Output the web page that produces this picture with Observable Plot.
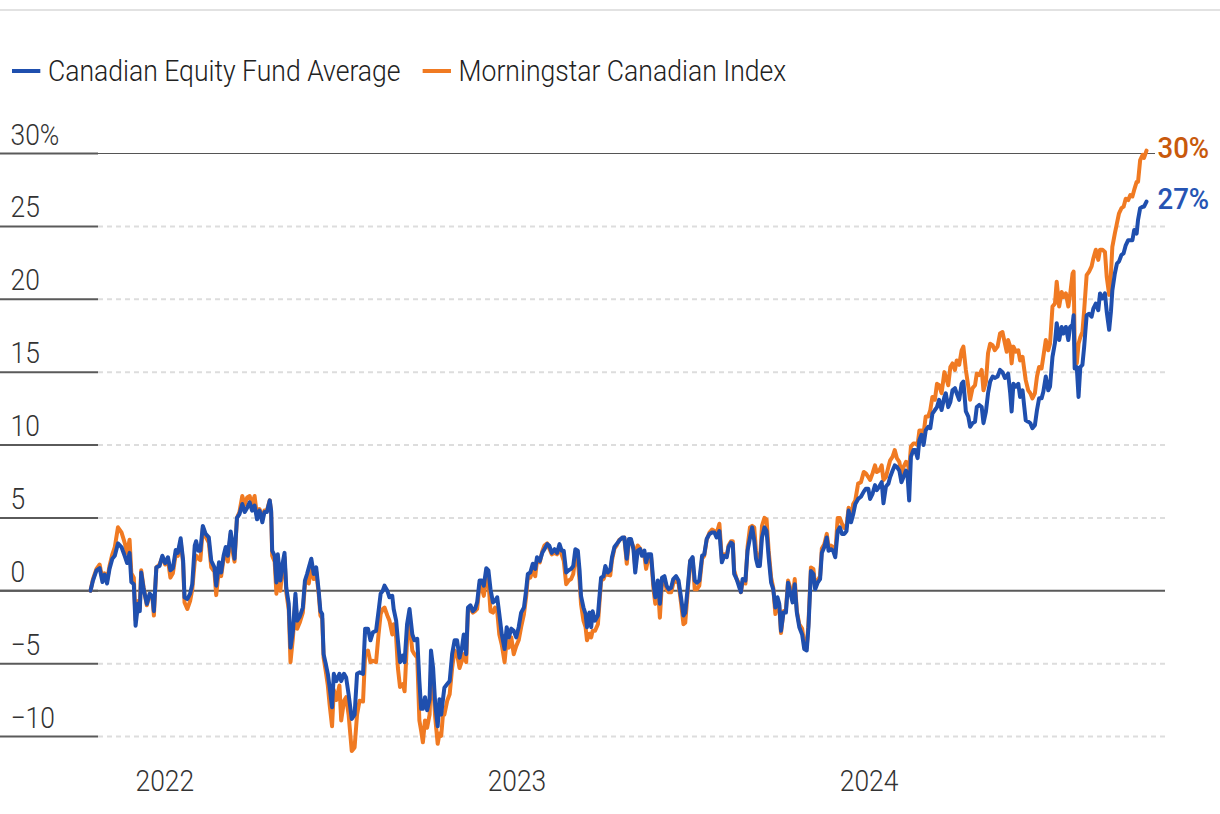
<!DOCTYPE html>
<html>
<head>
<meta charset="utf-8">
<script src="https://cdn.jsdelivr.net/npm/d3@7"></script>
<script src="https://cdn.jsdelivr.net/npm/@observablehq/plot@0.6"></script>
<style>
  html, body { margin: 0; padding: 0; background: #fff; }
  body { width: 1220px; height: 814px; position: relative; overflow: hidden; font-family: Roboto, "Liberation Sans", sans-serif; }
  #topline { position: absolute; left: 0; top: 9px; width: 1220px; height: 2px; background: #e2e2e2; }
  #legend { position: absolute; left: 12px; top: 56px; height: 30px; display: flex; align-items: center; font-size: 30px; font-weight: 300; line-height: 30px; color: #222; white-space: nowrap; transform: scaleX(0.885); transform-origin: 0 50%; }
  #legend .sw { display: inline-block; width: 31.6px; height: 4px; margin-right: 9px; }
  #legend .item { display: inline-flex; align-items: center; margin-right: 24.9px; }
  #chart { position: absolute; left: 0; top: 100px; }
  #chart svg { overflow: visible; }
</style>
</head>
<body>
<div id="topline"></div>
<div id="legend"></div>
<div id="chart"></div>
<script>
// ---------- data (time in decimal years, cumulative return in %) ----------
const t = [
  2021.789, 2021.796, 2021.806, 2021.815, 2021.823, 2021.829, 2021.836, 2021.843, 2021.851, 2021.858,
  2021.867, 2021.877, 2021.886, 2021.893, 2021.900, 2021.905, 2021.912, 2021.917, 2021.924, 2021.929,
  2021.933, 2021.940, 2021.949, 2021.957, 2021.965, 2021.969, 2021.976, 2021.985, 2021.993, 2022.001,
  2022.009, 2022.016, 2022.023, 2022.031, 2022.037, 2022.045, 2022.052, 2022.056, 2022.064, 2022.072,
  2022.078, 2022.085, 2022.089, 2022.095, 2022.101, 2022.108, 2022.116, 2022.125, 2022.132, 2022.141,
  2022.146, 2022.154, 2022.160, 2022.167, 2022.173, 2022.179, 2022.187, 2022.194, 2022.198, 2022.205,
  2022.212, 2022.220, 2022.227, 2022.234, 2022.241, 2022.248, 2022.255, 2022.262, 2022.269, 2022.277,
  2022.283, 2022.290, 2022.298, 2022.302, 2022.305, 2022.312, 2022.317, 2022.321, 2022.328, 2022.334,
  2022.340, 2022.345, 2022.352, 2022.357, 2022.364, 2022.371, 2022.376, 2022.383, 2022.392, 2022.398,
  2022.404, 2022.409, 2022.416, 2022.423, 2022.430, 2022.437, 2022.442, 2022.447, 2022.451, 2022.457,
  2022.463, 2022.468, 2022.475, 2022.480, 2022.487, 2022.496,
  2022.501, 2022.509, 2022.515, 2022.522, 2022.531, 2022.539, 2022.546, 2022.553, 2022.563, 2022.569,
  2022.577, 2022.584, 2022.591, 2022.600, 2022.607, 2022.613, 2022.619, 2022.624, 2022.632, 2022.638,
  2022.646, 2022.650, 2022.657, 2022.662, 2022.668, 2022.676, 2022.681, 2022.688, 2022.695, 2022.703,
  2022.709, 2022.717, 2022.723, 2022.728, 2022.733, 2022.739, 2022.745, 2022.752, 2022.756, 2022.762,
  2022.768, 2022.775, 2022.780, 2022.785, 2022.790, 2022.794, 2022.802, 2022.809, 2022.816, 2022.823,
  2022.830, 2022.837, 2022.844, 2022.849, 2022.856, 2022.861, 2022.868, 2022.875, 2022.881, 2022.887,
  2022.894, 2022.900, 2022.906, 2022.913, 2022.919, 2022.925, 2022.932, 2022.938, 2022.944, 2022.950,
  2022.957, 2022.965, 2022.971, 2022.977, 2022.984, 2022.991, 2022.998, 2023.005, 2023.012, 2023.020,
  2023.026, 2023.031, 2023.038, 2023.045, 2023.052, 2023.057, 2023.065, 2023.072, 2023.078, 2023.086,
  2023.092, 2023.099, 2023.107, 2023.114, 2023.121, 2023.127, 2023.133, 2023.140, 2023.147, 2023.154,
  2023.160, 2023.166, 2023.173, 2023.178, 2023.182, 2023.189, 2023.195, 2023.199, 2023.206, 2023.211,
  2023.215, 2023.222, 2023.230,
  2023.239, 2023.246, 2023.251, 2023.258, 2023.265, 2023.270, 2023.277, 2023.283, 2023.291, 2023.299,
  2023.305, 2023.312, 2023.318, 2023.324, 2023.331, 2023.336, 2023.343, 2023.350, 2023.355, 2023.362,
  2023.367, 2023.373, 2023.381, 2023.388, 2023.393, 2023.400, 2023.406, 2023.412, 2023.419, 2023.425,
  2023.431, 2023.438, 2023.444, 2023.452, 2023.459, 2023.466, 2023.473, 2023.478, 2023.485, 2023.492,
  2023.499, 2023.505, 2023.511, 2023.518, 2023.526, 2023.532, 2023.539, 2023.547, 2023.554, 2023.561,
  2023.567, 2023.575, 2023.582, 2023.589, 2023.596, 2023.601, 2023.608, 2023.613, 2023.617, 2023.624,
  2023.630, 2023.636, 2023.641, 2023.649, 2023.655, 2023.662, 2023.668, 2023.674, 2023.679, 2023.684,
  2023.690, 2023.696, 2023.703, 2023.709, 2023.715, 2023.722, 2023.728, 2023.734, 2023.740, 2023.745,
  2023.750, 2023.757, 2023.764, 2023.770, 2023.775, 2023.783, 2023.789, 2023.795, 2023.802, 2023.810,
  2023.816, 2023.823, 2023.828, 2023.835, 2023.842, 2023.847, 2023.854, 2023.861, 2023.866, 2023.873,
  2023.880, 2023.885, 2023.892, 2023.898, 2023.904, 2023.911, 2023.917, 2023.923, 2023.930, 2023.936,
  2023.942, 2023.949, 2023.955, 2023.961,
  2023.969, 2023.977, 2023.985, 2023.991, 2023.998, 2024.003, 2024.010, 2024.017, 2024.022, 2024.029,
  2024.036, 2024.041, 2024.048, 2024.055, 2024.060, 2024.067, 2024.073, 2024.079, 2024.086, 2024.092,
  2024.098, 2024.105, 2024.109, 2024.114, 2024.119, 2024.126, 2024.131, 2024.138, 2024.143, 2024.149,
  2024.155, 2024.161, 2024.168, 2024.174, 2024.180, 2024.187, 2024.193, 2024.199, 2024.206, 2024.214,
  2024.218, 2024.225, 2024.231, 2024.237, 2024.244, 2024.249, 2024.256, 2024.263, 2024.268, 2024.275,
  2024.282, 2024.287, 2024.294, 2024.301, 2024.306, 2024.313, 2024.320, 2024.325, 2024.332, 2024.338,
  2024.344, 2024.351, 2024.357, 2024.365, 2024.372, 2024.379, 2024.386, 2024.391, 2024.395, 2024.401,
  2024.405, 2024.410, 2024.417, 2024.424, 2024.429, 2024.436, 2024.441, 2024.445, 2024.452, 2024.458,
  2024.464, 2024.471, 2024.477, 2024.483, 2024.490, 2024.495, 2024.502, 2024.509, 2024.514, 2024.521,
  2024.528, 2024.533, 2024.540, 2024.547, 2024.552, 2024.559, 2024.566, 2024.571, 2024.578, 2024.581,
  2024.584, 2024.590, 2024.595, 2024.600, 2024.606, 2024.611, 2024.618, 2024.625, 2024.632, 2024.637,
  2024.644, 2024.651, 2024.656, 2024.663, 2024.670, 2024.675, 2024.682, 2024.687, 2024.691, 2024.698,
  2024.704, 2024.710, 2024.717, 2024.723, 2024.729, 2024.736, 2024.742, 2024.748, 2024.753, 2024.760,
  2024.764, 2024.770, 2024.777, 2024.781, 2024.788
];

// Canadian Equity Fund Average
const fund = [
  0.0, 0.7, 1.4, 1.55, 0.6, 1.1, 0.5, 1.5, 2.2, 2.4,
  3.25, 3.0, 2.4, 1.9, 2.6, 0.6, 0.45, -2.4, -0.9, -1.4,
  1.25, 0.1, -0.9, -0.2, -0.4, -1.4, 1.6, 1.7, 2.4, 1.9,
  2.3, 1.4, 1.55, 2.8, 2.6, 3.6, 2.1, -0.45, -0.57, -0.2,
  0.45, 3.1, 3.4, 2.75, 2.75, 4.45, 3.9, 3.66, 2.05, 1.6,
  0.35, 1.95, 1.25, 2.4, 3.0, 2.4, 4.07, 3.0, 2.2, 5.0,
  5.26, 5.95, 5.4, 5.7, 6.06, 5.5, 5.85, 4.9, 5.5, 4.7,
  5.4, 5.4, 6.2, 5.5, 2.75, 2.4, 0.57, 2.5, 0.7, 1.8,
  2.6, 0.2, -0.9, -3.9, -2.75, -0.2, -2.05, -1.8, -1.15, 0.7,
  1.15, 1.6, 2.2, 1.15, 1.6, 0.0, -1.4, -1.6, -4.35, -5.0,
  -5.7, -6.6, -8.0, -5.7, -6.2, -5.7,
  -6.2, -5.7, -5.95, -7.1, -8.8, -8.5, -5.7, -5.6, -5.7, -2.6,
  -2.6, -3.4, -2.85, -2.75, -1.4, -0.2, 0.0, 0.35, 0.0, -0.45,
  -0.35, -1.25, -2.05, -3.4, -4.9, -4.45, -4.9, -2.3, -1.25, -3.0,
  -3.4, -3.3, -6.2, -8.1, -8.1, -7.3, -8.2, -7.45, -4.1, -5.3,
  -7.8, -9.3, -7.45, -8.5, -7.45, -6.65, -6.4, -6.2, -4.35, -3.4,
  -3.4, -4.6, -3.9, -3.0, -4.35, -1.15, -1.0, -1.4, -1.25, -0.8,
  0.7, 0.7, 0.35, 1.55, 1.4, 0.1, -0.8, -0.7, -0.45, -1.6,
  -3.0, -4.0, -2.5, -3.2, -2.6, -2.75, -3.2, -2.5, -1.5, -1.15,
  0.0, 1.15, 1.25, 1.85, 1.5, 2.3, 2.05, 2.6, 2.85, 3.2,
  3.1, 2.6, 2.85, 2.6, 3.2, 2.75, 2.75, 1.25, 1.4, 1.5,
  1.7, 2.85, 2.75, 1.4, -0.35, -1.15, -1.6, -2.5, -1.5, -2.5,
  -1.4, -2.05, -1.7,
  0.9, 1.0, 1.7, 1.25, 1.4, 2.3, 3.0, 3.2, 3.45, 3.65,
  3.65, 2.2, 3.55, 3.55, 2.85, 1.25, 2.75, 2.85, 2.4, 2.75,
  1.95, 2.5, 2.5, 0.45, -0.45, 0.7, -0.9, 0.9, 1.0, 0.35,
  0.1, 0.2, 0.8, 1.0, 0.7, -0.45, -1.7, -1.5, 0.2, 2.05,
  2.3, 0.7, 0.55, 0.7, 2.4, 2.5, 3.55, 3.9, 4.0, 4.0,
  3.65, 4.1, 1.95, 2.4, 2.3, 3.0, 3.3, 3.2, 1.15, 0.8,
  0.35, -0.1, 0.8, 0.7, 2.75, 3.65, 4.35, 3.45, 2.2, 1.7,
  1.7, 3.65, 4.35, 4.1, 2.3, 0.55, 0.1, -1.15, -0.45, -0.9,
  -2.75, -1.5, -1.5, 0.55, 0.0, -0.8, 0.45, -1.5, -2.5, -3.0,
  -4.0, -4.1, -2.5, 1.35, 1.15, 0.1, 0.55, 0.8, 2.6, 3.0,
  3.65, 2.75, 2.85, 2.75, 2.3, 4.1, 4.35, 3.9, 3.9, 4.1,
  5.5, 4.7, 5.25, 5.95,
  6.3, 6.45, 6.8, 7.0, 7.0, 6.3, 6.65, 7.25, 6.9, 7.15,
  7.45, 6.0, 7.15, 7.35, 7.8, 8.25, 8.6, 8.5, 8.25, 7.45,
  7.8, 8.25, 8.05, 6.2, 9.2, 9.65, 9.65, 9.1, 10.35, 10.7,
  10.0, 11.0, 11.25, 11.15, 12.15, 12.4, 12.6, 13.1, 12.4, 13.3,
  13.55, 12.6, 12.95, 13.75, 13.9, 13.55, 13.1, 14.2, 14.35, 12.3,
  11.95, 11.25, 11.5, 11.6, 12.6, 12.75, 12.6, 11.5, 12.3, 13.55,
  14.35, 14.7, 14.6, 14.7, 15.15, 15.0, 14.6, 14.7, 14.9, 13.55,
  12.3, 14.2, 14.0, 14.2, 13.3, 13.75, 12.6, 11.7, 11.6, 11.5,
  11.15, 11.35, 12.4, 13.2, 13.2, 13.65, 14.7, 13.75, 14.0, 16.05,
  17.0, 18.35, 17.2, 18.1, 17.65, 18.1, 17.2, 18.1, 18.25, 18.9,
  15.25, 15.35, 13.3, 15.35, 15.5, 16.75, 18.9, 19.0, 18.8, 19.35,
  19.7, 19.25, 20.4, 20.05, 20.4, 19.15, 17.9, 19.15, 20.6, 21.75,
  22.45, 22.6, 23.05, 23.15, 23.7, 24.05, 24.05, 24.05, 24.75, 24.5,
  25.45, 26.25, 26.35, 26.35, 26.7
];

// Morningstar Canadian Index
const index = [
  0.0, 0.8, 1.5, 1.8, 0.8, 1.2, 0.7, 1.7, 2.5, 3.0,
  4.35, 4.0, 3.3, 2.6, 3.5, 1.2, 0.9, -2.0, -0.7, -1.2,
  1.4, 0.2, -1.0, -0.3, -0.5, -1.7, 1.6, 1.8, 2.3, 1.8,
  2.1, 0.9, 1.2, 2.5, 2.4, 3.4, 1.9, -0.8, -1.25, -0.7,
  0.1, 2.0, 2.4, 2.2, 2.1, 4.3, 3.7, 3.3, 1.6, 1.3,
  -0.3, 1.5, 1.0, 2.2, 2.8, 2.0, 3.9, 2.5, 2.0, 5.0,
  5.4, 6.5, 5.9, 6.4, 6.5, 5.9, 6.5, 5.1, 5.6, 5.0,
  5.5, 5.5, 6.2, 5.4, 2.4, 2.0, -0.2, 2.0, 0.0, 1.4,
  2.3, -0.1, -1.3, -4.9, -3.2, -0.5, -2.6, -2.2, -1.5, 0.4,
  0.9, 0.5, 1.7, 0.8, 1.3, -0.2, -1.7, -1.9, -4.6, -5.5,
  -6.5, -7.8, -9.3, -6.8, -7.5, -6.5,
  -8.9, -7.55, -7.3, -8.5, -11.0, -10.75, -8.5, -7.55, -7.6, -4.35,
  -4.1, -4.9, -4.8, -4.9, -3.0, -1.6, -1.25, -1.15, -1.7, -2.05,
  -3.0, -2.3, -3.2, -5.3, -6.6, -6.4, -6.9, -3.4, -2.3, -4.1,
  -4.35, -4.6, -8.9, -9.6, -10.4, -8.9, -9.4, -8.5, -5.5, -6.5,
  -8.7, -10.5, -9.8, -9.95, -8.5, -8.5, -7.55, -7.1, -5.3, -4.1,
  -4.35, -5.3, -4.8, -4.35, -4.9, -1.25, -1.25, -1.5, -1.4, -1.25,
  0.45, 0.2, -0.35, 0.9, 0.7, -1.4, -1.5, -1.15, -1.4, -3.0,
  -3.7, -4.9, -3.4, -3.9, -3.2, -4.35, -3.8, -3.4, -2.5, -1.6,
  -0.45, 0.9, 0.9, 1.4, 1.0, 2.05, 1.95, 2.7, 3.1, 3.25,
  2.9, 2.5, 2.6, 2.5, 2.85, 2.5, 2.05, 0.45, 0.7, 0.8,
  1.15, 2.3, 2.05, 0.7, -0.9, -2.05, -2.5, -3.4, -2.95, -3.2,
  -2.75, -2.75, -2.3,
  0.7, 0.8, 1.15, 1.1, 1.05, 2.1, 2.9, 3.1, 3.5, 3.6,
  3.65, 1.85, 3.4, 3.4, 3.0, 1.6, 3.1, 2.9, 2.5, 2.4,
  1.5, 2.2, 2.3, 0.1, -0.9, 0.5, -1.85, 0.6, 0.8, 0.1,
  -0.1, -0.1, 0.5, 0.7, 0.5, -0.8, -2.3, -2.2, -0.1, 2.05,
  2.2, 0.1, 0.1, 0.35, 2.2, 2.4, 3.5, 4.0, 4.2, 4.1,
  3.9, 4.6, 2.2, 2.5, 2.4, 3.1, 3.4, 3.4, 1.4, 0.8,
  0.55, -0.1, 0.6, 0.5, 3.0, 4.35, 4.45, 4.35, 2.75, 1.9,
  1.9, 4.45, 5.0, 4.9, 2.75, 0.9, 0.2, -1.6, -0.6, -1.0,
  -2.9, -1.4, -1.3, 0.7, 0.3, -0.6, 0.8, -1.4, -2.3, -2.6,
  -3.6, -3.9, -2.2, 1.6, 1.5, 0.3, 0.7, 1.0, 2.9, 3.2,
  3.9, 3.0, 3.1, 3.0, 2.5, 5.0, 5.0, 4.6, 4.3, 4.4,
  5.7, 5.0, 5.95, 6.2,
  7.35, 7.45, 8.15, 8.05, 7.8, 7.6, 8.05, 8.6, 8.15, 8.25,
  8.6, 7.6, 7.8, 8.5, 8.95, 9.2, 9.65, 9.1, 8.85, 8.05,
  8.5, 8.85, 8.75, 8.3, 9.9, 10.1, 10.1, 10.0, 11.0, 11.0,
  10.8, 11.95, 11.95, 12.4, 13.3, 13.1, 14.2, 14.1, 13.55, 15.0,
  14.7, 14.1, 15.35, 15.6, 15.15, 15.8, 15.5, 16.5, 16.75, 15.15,
  14.0, 13.1, 13.9, 14.1, 14.9, 14.8, 15.15, 13.75, 14.35, 16.3,
  16.95, 16.85, 16.5, 16.75, 17.65, 17.75, 16.95, 16.4, 17.2, 16.75,
  15.6, 16.75, 16.4, 16.5, 15.8, 16.05, 15.15, 14.45, 13.75, 13.55,
  13.2, 13.55, 14.7, 15.35, 15.25, 16.05, 17.2, 16.5, 16.95, 19.5,
  19.7, 21.2, 19.5, 20.5, 20.15, 20.4, 19.5, 20.3, 21.75, 21.9,
  16.95, 15.6, 16.95, 17.4, 17.75, 19.25, 21.65, 21.9, 22.25, 22.8,
  23.4, 22.7, 23.4, 23.4, 23.25, 21.55, 20.3, 21.75, 23.6, 24.5,
  25.2, 25.9, 26.25, 26.35, 26.9, 26.8, 27.15, 27.05, 27.5, 28.05,
  28.05, 29.55, 29.9, 29.7, 30.2
];

const seriesNames = ["Canadian Equity Fund Average", "Morningstar Canadian Index"];
const yTicks = [-10, -5, 0, 5, 10, 15, 20, 25, 30];
const yTickLabels = ["\u221210", "\u22125", "0", "5", "10", "15", "20", "25", "30%"];
const xTicks = [2022, 2023, 2024];

// ---------- styling ----------
const BLUE = "#1f4fae";
const ORANGE = "#f07a22";
const BLUE_LABEL = "#2654b3";
const ORANGE_LABEL = "#c8590c";
const FONT = "Roboto, 'Liberation Sans', sans-serif";

// ---------- legend ----------
const legend = document.getElementById("legend");
[[seriesNames[0], BLUE], [seriesNames[1], ORANGE]].forEach(([name, col]) => {
  const item = document.createElement("span");
  item.className = "item";
  const sw = document.createElement("span");
  sw.className = "sw"; sw.style.background = col;
  item.appendChild(sw);
  item.appendChild(document.createTextNode(name));
  legend.appendChild(item);
});

// ---------- chart ----------
const rows = t.map((d, i) => ({t: d, fund: fund[i], index: index[i]}));
const last = rows[rows.length - 1];

const chart = Plot.plot({
  width: 1220,
  height: 714,
  marginLeft: 90,
  marginRight: 74,
  marginTop: 53,
  marginBottom: 78,
  x: {domain: [t[0], t[t.length - 1]], axis: null, label: null},
  y: {domain: [-10, 30], axis: null, label: null},
  style: {fontFamily: FONT, fontSize: "30px", color: "#333", background: "transparent", overflow: "visible"},
  marks: [
    Plot.ruleY(yTicks.filter(d => d !== 0 && d !== 30), {stroke: "#dddddd", strokeWidth: 2, strokeDasharray: "5,4", insetLeft: 8, insetRight: -19}),
    Plot.ruleY([30], {stroke: "#555", strokeWidth: 1.2, insetLeft: 8, insetRight: -9}),
    Plot.ruleY([0], {stroke: "#5a5a5a", strokeWidth: 2, insetLeft: -90, insetRight: -19}),
    Plot.ruleY(yTicks, {stroke: "#5a5a5a", strokeWidth: 2, insetLeft: -90, insetRight: 1048}),
    Plot.text(yTicks, {y: d => d, text: (d, i) => yTickLabels[i], frameAnchor: "left", dx: -80, textAnchor: "start", lineAnchor: "bottom", dy: -9, fontSize: 30, fontWeight: 300, fill: "#333", className: "cond"}),
    Plot.axisX({ticks: xTicks, tickFormat: d => String(d), tickSize: 0, tickPadding: 33, fontSize: 30, fontWeight: 300, fill: "#333", label: null, className: "cond"}),
    Plot.line(rows, {x: "t", y: "index", stroke: ORANGE, strokeWidth: 4, strokeLinejoin: "round"}),
    Plot.line(rows, {x: "t", y: "fund", stroke: BLUE, strokeWidth: 4, strokeLinejoin: "round"}),
    Plot.text([last], {x: "t", y: "index", text: d => Math.round(d.index) + "%", dx: 11, dy: -2, textAnchor: "start", fontSize: 30, fontWeight: 500, fill: ORANGE_LABEL, className: "cond2"}),
    Plot.text([last], {x: "t", y: "fund", text: d => Math.round(d.fund) + "%", dx: 11, dy: -2, textAnchor: "start", fontSize: 30, fontWeight: 500, fill: BLUE_LABEL, className: "cond2"})
  ]
});

// condense text horizontally about each label's own anchor (the reference uses a condensed face)
function condense(sel, s) {
  chart.querySelectorAll(sel).forEach(el => {
    const xa = parseFloat(el.getAttribute("x"));
    const ax = Number.isFinite(xa) ? xa : 0;
    const tr = el.getAttribute("transform") || "";
    el.setAttribute("transform", `${tr} translate(${ax} 0) scale(${s} 1) translate(${-ax} 0)`.trim());
  });
}
condense(".cond text", 0.88);
condense(".cond2 text", 0.92);
document.getElementById("chart").appendChild(chart);
</script>
</body>
</html>
